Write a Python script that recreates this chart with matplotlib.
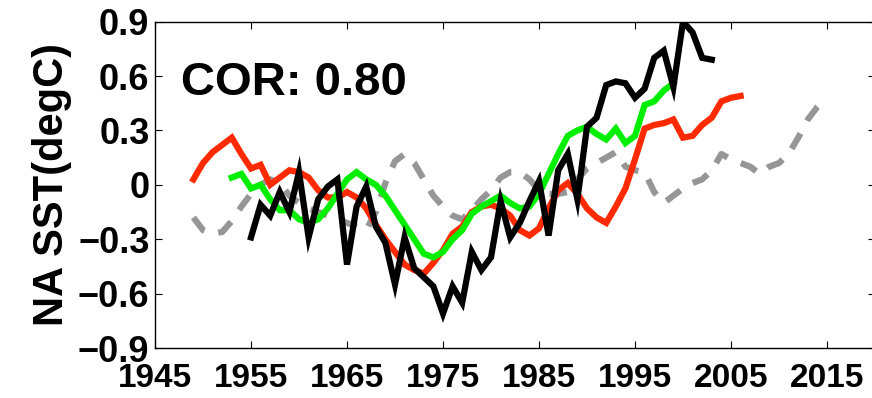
import matplotlib
matplotlib.use("Agg")
import matplotlib.pyplot as plt
import numpy as np

plt.rcParams['font.family'] = ['Liberation Sans', 'DejaVu Sans']

red_years = list(range(1949, 2007))
red_vals = [0.03, 0.12, 0.18, 0.22, 0.26, 0.17, 0.09, 0.11, 0.00, 0.04,
            0.08, 0.07, 0.04, -0.03, -0.07, -0.07, -0.04, -0.07, -0.13, -0.22,
            -0.30, -0.37, -0.44, -0.47, -0.49, -0.43, -0.36, -0.27, -0.23, -0.15,
            -0.12, -0.11, -0.13, -0.17, -0.25, -0.28, -0.24, -0.13, -0.03, 0.01,
            -0.05, -0.13, -0.18, -0.21, -0.12, -0.02, 0.14, 0.31, 0.33, 0.34,
            0.36, 0.26, 0.27, 0.33, 0.37, 0.46, 0.48, 0.49]

green_years = list(range(1953, 2000))
green_vals = [0.04, 0.06, -0.02, 0.00, -0.08, -0.14, -0.14, -0.19, -0.21, -0.19,
              -0.13, -0.05, 0.03, 0.07, 0.03, 0.00, -0.06, -0.14, -0.22, -0.30,
              -0.38, -0.40, -0.37, -0.30, -0.25, -0.16, -0.12, -0.09, -0.06, -0.10,
              -0.13, -0.12, -0.05, 0.06, 0.17, 0.27, 0.30, 0.32, 0.28, 0.25,
              0.31, 0.23, 0.27, 0.44, 0.46, 0.52, 0.56]

black_years = list(range(1955, 2004))
black_vals = [-0.29, -0.11, -0.17, -0.04, -0.15, 0.07, -0.29, -0.08, -0.01, 0.03,
              -0.44, -0.12, -0.01, -0.23, -0.32, -0.55, -0.29, -0.46, -0.51, -0.56,
              -0.71, -0.56, -0.65, -0.37, -0.47, -0.40, -0.09, -0.29, -0.21, -0.09,
              0.02, -0.28, 0.08, 0.17, -0.08, 0.32, 0.37, 0.55, 0.57, 0.56,
              0.48, 0.53, 0.70, 0.74, 0.54, 0.90, 0.84, 0.70, 0.69]

gray_years = list(range(1949, 2016))
gray_vals = [-0.18, -0.25, -0.27, -0.26, -0.20, -0.12, -0.05, 0.00, 0.03, 0.01,
             -0.06, -0.10, -0.13, -0.15, -0.17, -0.19, -0.21, -0.23, -0.25, -0.15,
             0.01, 0.13, 0.17, 0.12, 0.03, -0.06, -0.12, -0.17, -0.19, -0.14,
             -0.08, -0.03, 0.04, 0.07, 0.07, 0.03, -0.03, -0.05, -0.05, -0.04,
             0.03, 0.09, 0.12, 0.15, 0.18, 0.10, 0.08, 0.07, -0.04, -0.10,
             -0.06, -0.02, 0.01, 0.03, 0.08, 0.17, 0.14, 0.12, 0.10, 0.06,
             0.10, 0.12, 0.17, 0.26, 0.36, 0.43, 0.48]

x_ticks = [1945, 1955, 1965, 1975, 1985, 1995, 2005, 2015]
y_ticks = [-0.9, -0.6, -0.3, 0, 0.3, 0.6, 0.9]
y_ticklabels = ['\u22120.9', '\u22120.6', '\u22120.3', '0', '0.3', '0.6', '0.9']
cor_text = 'COR: 0.80'
ylabel = 'NA SST(degC)'

W, H = 872, 398
fig = plt.figure(figsize=(W / 100, H / 100), dpi=100)
ax = fig.add_axes([155 / W, 1 - 348 / H, (875 - 155) / W, (348 - 21.6) / H])

lw = 4.5
gl, = ax.plot(gray_years, gray_vals, color='#969696', lw=lw, linestyle='--')
gl.set_dashes((2.8, 2.3))
gl.set_dash_capstyle('butt')
ax.plot(red_years, red_vals, color='#ff2a00', lw=lw, solid_joinstyle='miter')
ax.plot(green_years, green_vals, color='#00ee00', lw=lw, solid_joinstyle='miter')
ax.plot(black_years, black_vals, color='black', lw=lw, solid_joinstyle='miter')

ax.set_xlim(1945, 2020)
ax.set_ylim(-0.9, 0.9)
ax.set_xticks(x_ticks)
ax.set_xticklabels([str(t) for t in x_ticks])
ax.set_yticks(y_ticks)
ax.set_yticklabels(y_ticklabels)
ax.tick_params(direction='in', length=5, width=0.8, top=True, right=True)
ax.tick_params(axis='x', pad=11, labelsize=24)
ax.tick_params(axis='y', pad=4, labelsize=26)
for lab in ax.get_xticklabels() + ax.get_yticklabels():
    lab.set_fontweight('bold')
for s in ax.spines.values():
    s.set_linewidth(1.0)

ax.set_ylabel(ylabel, fontsize=30, fontweight='bold', labelpad=4)
ax.text(0.036, 0.775, cor_text, transform=ax.transAxes, fontsize=34,
        fontweight='bold', va='baseline', ha='left')

fig.savefig('out.png', dpi=100)
